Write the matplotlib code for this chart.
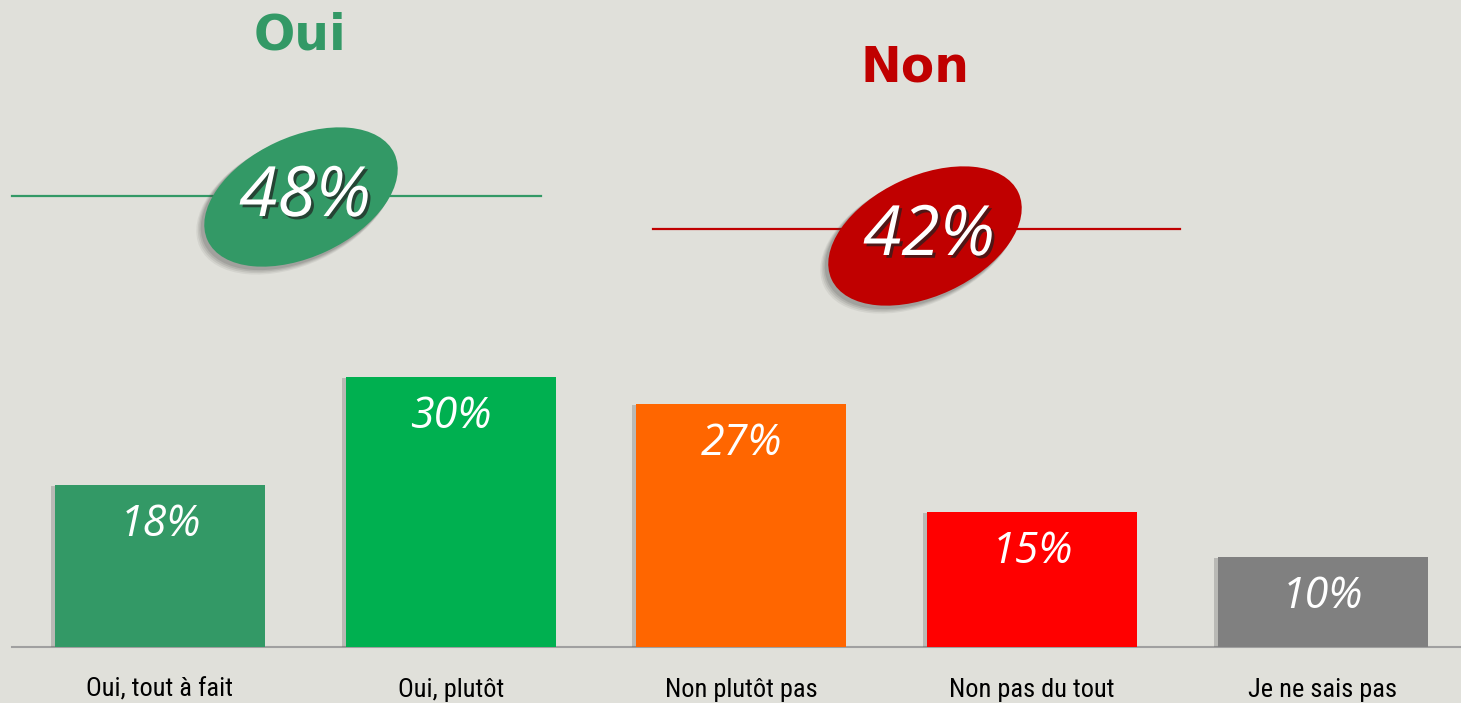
import matplotlib
matplotlib.use("Agg")
import matplotlib.pyplot as plt
from matplotlib.patches import Ellipse
import matplotlib.patheffects as pe
from matplotlib import font_manager as fm

categories = ["Oui, tout à fait", "Oui, plutôt", "Non plutôt pas", "Non pas du tout", "Je ne sais pas"]
values = [18, 30, 27, 15, 10]
bar_colors = ["#339966", "#00B050", "#FF6600", "#FF0000", "#808080"]
group_titles = ["Oui", "Non"]
group_totals = [48, 42]
group_colors = ["#339966", "#C00000"]

BG = "#E0E0DA"
W, H = 1461, 703
fig = plt.figure(figsize=(W / 100, H / 100), dpi=100, facecolor=BG)

names = {f.name for f in fm.fontManager.ttflist}
cond = None
for cand in ["Roboto Condensed", "Liberation Sans Narrow", "DejaVu Sans Condensed", "Open Sans Condensed"]:
    if cand in names:
        cond = cand
        break
if cond is None:
    cond = "DejaVu Sans"

# Bar axes: baseline at y=647px, 9 px per percent
base = 647
ax = fig.add_axes([12 / W, (H - base) / H, (W - 12) / W, 630 / H])
ax.set_facecolor("none")
xs = list(range(len(values)))
ax.set_xlim(-0.509, 4.475)
ax.set_ylim(0, 70)
shadow = [pe.SimplePatchShadow(offset=(-3, -1), shadow_rgbFace="#606060", alpha=0.3), pe.Normal()]
bars = ax.bar(xs, values, width=0.722, color=bar_colors, zorder=3)
for b in bars:
    b.set_path_effects(shadow)
for x, v in zip(xs, values):
    ax.text(x, v - 4.4, f"{v}%", ha="center", va="center", color="white",
            fontsize=31, style="italic", family="Open Sans", zorder=4)
ax.set_yticks([])
ax.set_xticks(xs)
ax.set_xticklabels(categories, family=cond, fontsize=19, stretch="condensed")
ax.tick_params(axis="x", length=0, pad=22)
for s in ["top", "right", "left"]:
    ax.spines[s].set_visible(False)
ax.spines["bottom"].set_color("#A0A0A0")
ax.spines["bottom"].set_linewidth(1.5)

# Overlay axes in pixel coordinates for the headline group summaries
ov = fig.add_axes([0, 0, 1, 1])
ov.set_xlim(0, W)
ov.set_ylim(H, 0)
ov.axis("off")
ov.set_facecolor("none")

title_pos = [(300, 35), (915, 67)]
line_spans = [(12, 541, 196), (653, 1180, 229)]
ell_centers = [(301, 197), (925, 236)]
for title, tot, col, tp, ls, ec in zip(group_titles, group_totals, group_colors, title_pos, line_spans, ell_centers):
    ov.text(tp[0], tp[1], title, color=col, fontsize=35, fontweight="bold",
            ha="center", va="center", family="DejaVu Sans")
    ov.plot([ls[0], ls[1]], [ls[2], ls[2]], color=col, lw=1.6, zorder=2)
    for i, (dx, dy, a) in enumerate([(-6, 6, 0.08), (-5, 5, 0.10), (-4, 4, 0.12), (-3, 3, 0.15)]):
        ov.add_patch(Ellipse((ec[0] + dx, ec[1] + dy), 206 + 4 - i, 120 + 4 - i, angle=-25,
                             color="#404040", alpha=a, lw=0, zorder=3))
    ov.add_patch(Ellipse(ec, 206, 120, angle=-25, color=col, lw=0, zorder=4))
    txt = ov.text(ec[0] + 4, ec[1] + 1, f"{tot}%", color="white", fontsize=50, style="italic",
                  family="Open Sans", ha="center", va="center", zorder=5)
    txt.set_path_effects([pe.withSimplePatchShadow(offset=(2, -2), shadow_rgbFace="#202020", alpha=0.7)])

fig.savefig("out.png", dpi=100, facecolor=BG)
